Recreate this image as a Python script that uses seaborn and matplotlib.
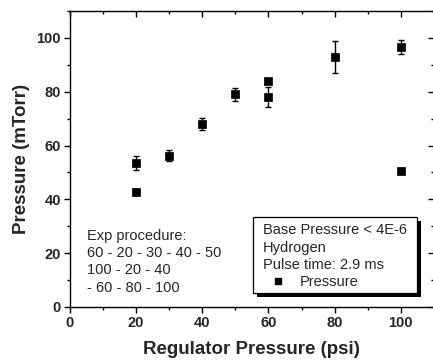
import matplotlib
matplotlib.use("Agg")
import matplotlib.pyplot as plt
import seaborn as sns
import pandas as pd
from matplotlib.patches import Rectangle
from matplotlib.ticker import MultipleLocator

# Measured chamber pressure vs regulator setting
regulator_psi = [20, 20, 30, 40, 50, 60, 60, 80, 100, 100]
pressure_mtorr = [53.5, 42.8, 56.3, 68.0, 79.0, 84.1, 78.2, 92.8, 96.6, 50.5]
pressure_err = [2.7, 0.0, 2.1, 2.3, 2.4, 0.0, 3.7, 6.0, 2.6, 0.0]

procedure_lines = ["Exp procedure:", "60 - 20 - 30 - 40 - 50", "100 - 20 - 40", "- 60 - 80 - 100"]
info_lines = ["Base Pressure < 4E-6", "Hydrogen", "Pulse time: 2.9 ms"]
x_ticks = [0, 20, 40, 60, 80, 100]
y_ticks = [0, 20, 40, 60, 80, 100]

df = pd.DataFrame({"psi": regulator_psi, "p": pressure_mtorr, "err": pressure_err})

sns.set_style("ticks")
plt.rcParams["font.family"] = ["Liberation Sans", "DejaVu Sans"]

fig = plt.figure(figsize=(4.33, 3.6), dpi=100)
ax = fig.add_axes([70 / 433, 53 / 360, 363.8 / 433, 296 / 360])

with_err = df[df["err"] > 0]
ax.errorbar(with_err["psi"], with_err["p"], yerr=with_err["err"], fmt="none",
            ecolor="black", elinewidth=1.0, capsize=2.5, capthick=1.0, zorder=2)
sns.scatterplot(data=df, x="psi", y="p", marker="s", s=36, color="black",
                edgecolor="black", linewidth=0.5, ax=ax, zorder=3, label="Pressure",
                legend=False)

ax.set_xlim(0, 110)
ax.set_ylim(0, 110)
ax.set_xticks(x_ticks)
ax.set_yticks(y_ticks)
ax.xaxis.set_minor_locator(MultipleLocator(10))
ax.yaxis.set_minor_locator(MultipleLocator(10))

for side in ["top", "right", "left", "bottom"]:
    ax.spines[side].set_visible(True)
    ax.spines[side].set_linewidth(1.0)
    ax.spines[side].set_color("black")

ax.tick_params(axis="both", which="major", direction="out", length=4, width=1.0,
               labelsize=10.5, top=True, right=True, color="black", pad=2.5)
ax.tick_params(axis="both", which="minor", direction="out", length=2.5, width=1.0,
               top=True, right=True, color="black")
ax.tick_params(axis="x", which="both", top=True, labeltop=False)
ax.tick_params(axis="y", which="both", right=True, labelright=False)
# mirrored ticks on top/right point inward
for t in ax.xaxis.get_major_ticks() + ax.xaxis.get_minor_ticks():
    t.tick2line.set_marker(matplotlib.lines.TICKDOWN)
for t in ax.yaxis.get_major_ticks() + ax.yaxis.get_minor_ticks():
    t.tick2line.set_marker(matplotlib.lines.TICKLEFT)

for lab in ax.get_xticklabels() + ax.get_yticklabels():
    lab.set_fontweight("bold")

ax.set_xlabel("Regulator Pressure (psi)", fontsize=13.5, fontweight="bold", labelpad=8)
ax.set_ylabel("Pressure (mTorr)", fontsize=13.5, fontweight="bold", labelpad=5)

ax.text(0.046, 0.264, "\n".join(procedure_lines), transform=ax.transAxes,
        fontsize=10.5, va="top", ha="left", linespacing=1.3)

# framed info box with a solid drop shadow
box_x0, box_y0, box_w, box_h = 0.503, 0.047, 0.451, 0.257
ax.add_patch(Rectangle((box_x0 + 0.011, box_y0 - 0.0135), box_w, box_h,
                       transform=ax.transAxes, facecolor="black", edgecolor="none",
                       zorder=4, clip_on=False))
ax.add_patch(Rectangle((box_x0, box_y0), box_w, box_h, transform=ax.transAxes,
                       facecolor="white", edgecolor="black", linewidth=0.9,
                       zorder=4.5, clip_on=False))

handle = matplotlib.lines.Line2D([], [], marker="s", color="black", linestyle="none",
                                 markersize=5)
leg = ax.legend([handle], ["Pressure"], title="\n".join(info_lines),
                loc="upper left", bbox_to_anchor=(0.5305, 0.283),
                fontsize=10.5, title_fontsize=10.5, alignment="left",
                frameon=False, borderpad=0, handlelength=2.0, handletextpad=0.55,
                labelspacing=0.2, borderaxespad=0)
leg.get_title().set_linespacing(1.3)
leg._legend_box.sep = 2
leg.set_zorder(5)

fig.savefig("out.png", dpi=100)
